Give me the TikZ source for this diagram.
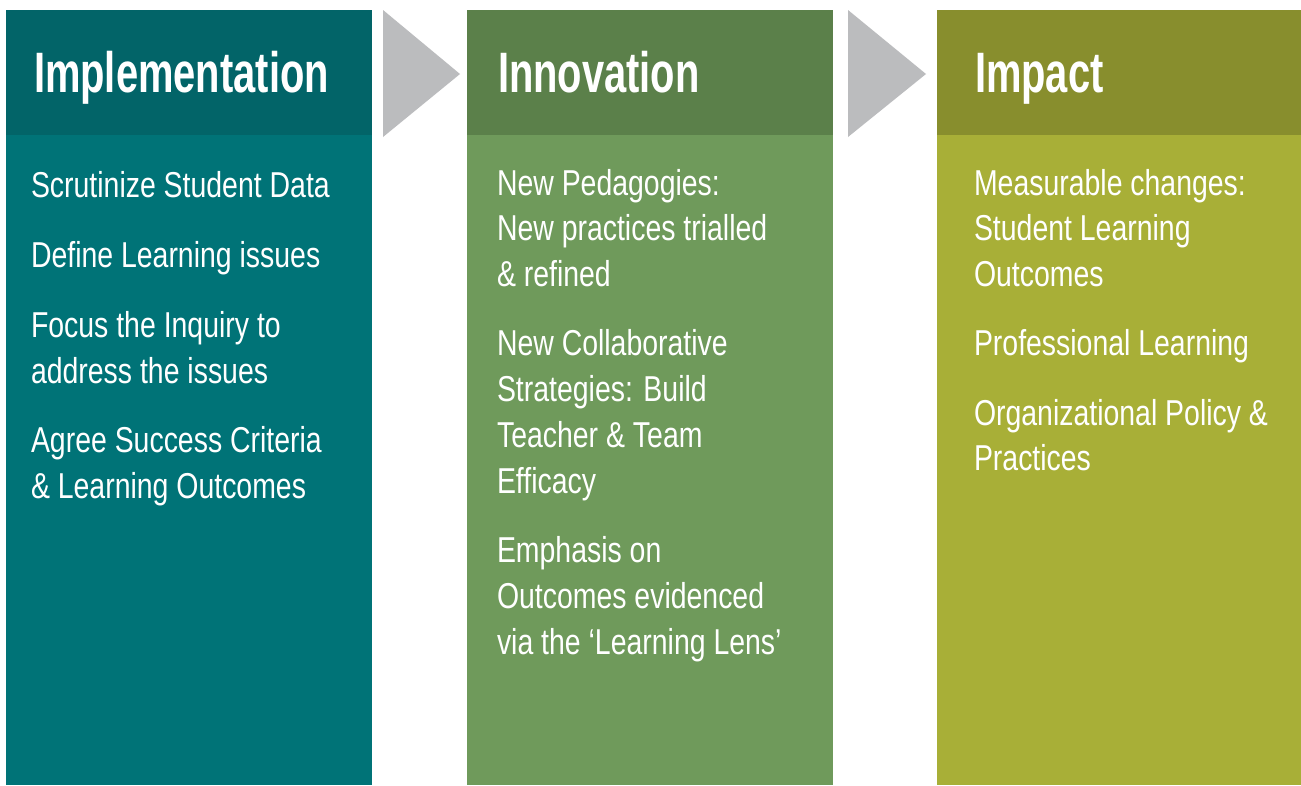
\documentclass[tikz,border=0pt]{standalone}
\usepackage{fontspec}
\newfontfamily\bodyfont[FakeStretch=0.79]{Liberation Sans}
\newfontfamily\headfont[FakeStretch=0.70]{Liberation Sans}
\definecolor{tealhead}{HTML}{026468}
\definecolor{tealbody}{HTML}{007377}
\definecolor{greenhead}{HTML}{5B804A}
\definecolor{greenbody}{HTML}{6F9A5B}
\definecolor{olivehead}{HTML}{888E2D}
\definecolor{olivebody}{HTML}{A8AF37}
\definecolor{chevron}{HTML}{BBBCBE}
\begin{document}
\begin{tikzpicture}[x=1pt,y=-1pt,
  every node/.style={inner sep=0pt,outer sep=0pt},
  headtxt/.style={anchor=base west,text=white,font=\headfont\bfseries\fontsize{57}{57}\selectfont},
  bodytxt/.style={anchor=base west,text=white,font=\bodyfont\fontsize{36}{46}\selectfont}]
\useasboundingbox (0,0) rectangle (1301,785);
\fill[white] (0,0) rectangle (1301,785);

% column panels: header band and body
\fill[tealbody]   (6,135)   rectangle (372,785);
\fill[tealhead]   (6,10)    rectangle (372,135);
\fill[greenbody]  (467,135) rectangle (833,785);
\fill[greenhead]  (467,10)  rectangle (833,135);
\fill[olivebody]  (937,135) rectangle (1301,785);
\fill[olivehead]  (937,10)  rectangle (1301,135);

% chevrons between the panels
\fill[chevron] (383,10) -- (460,74) -- (383,137) -- cycle;
\fill[chevron] (848,10) -- (926,74) -- (848,137) -- cycle;

% headings
\node[headtxt] (h1) at (34,92)  {Implementation};
\node[headtxt] (h2) at (498,92) {Innovation};
\node[headtxt] (h3) at (975,92) {Impact};

% Implementation
\node[bodytxt] (a1) at (31,197) {Scrutinize Student Data};
\node[bodytxt] (a2) at (31,267) {Define Learning issues};
\node[bodytxt] (a3) at (31,337) {Focus the Inquiry to};
\node[bodytxt] (a4) at (31,383) {address the issues};
\node[bodytxt] (a5) at (31,452) {Agree Success Criteria};
\node[bodytxt] (a6) at (31,498) {\& Learning Outcomes};

% Innovation
\node[bodytxt] (b1)  at (497,195) {New Pedagogies:};
\node[bodytxt] (b2)  at (497,240) {New practices trialled};
\node[bodytxt] (b3)  at (497,286) {\& refined};
\node[bodytxt] (b4)  at (497,355) {New Collaborative};
\node[bodytxt] (b5)  at (497,401) {Strategies: Build};
\node[bodytxt] (b6)  at (497,447) {Teacher \& Team};
\node[bodytxt] (b7)  at (497,493) {Efficacy};
\node[bodytxt] (b8)  at (497,562) {Emphasis on};
\node[bodytxt] (b9)  at (497,608) {Outcomes evidenced};
\node[bodytxt] (b10) at (497,654) {via the ‘Learning Lens’};

% Impact
\node[bodytxt] (c1) at (974,195) {Measurable changes:};
\node[bodytxt] (c2) at (974,240) {Student Learning};
\node[bodytxt] (c3) at (974,286) {Outcomes};
\node[bodytxt] (c4) at (974,355) {Professional Learning};
\node[bodytxt] (c5) at (974,425) {Organizational Policy \&};
\node[bodytxt] (c6) at (974,470) {Practices};
\end{tikzpicture}
\end{document}
